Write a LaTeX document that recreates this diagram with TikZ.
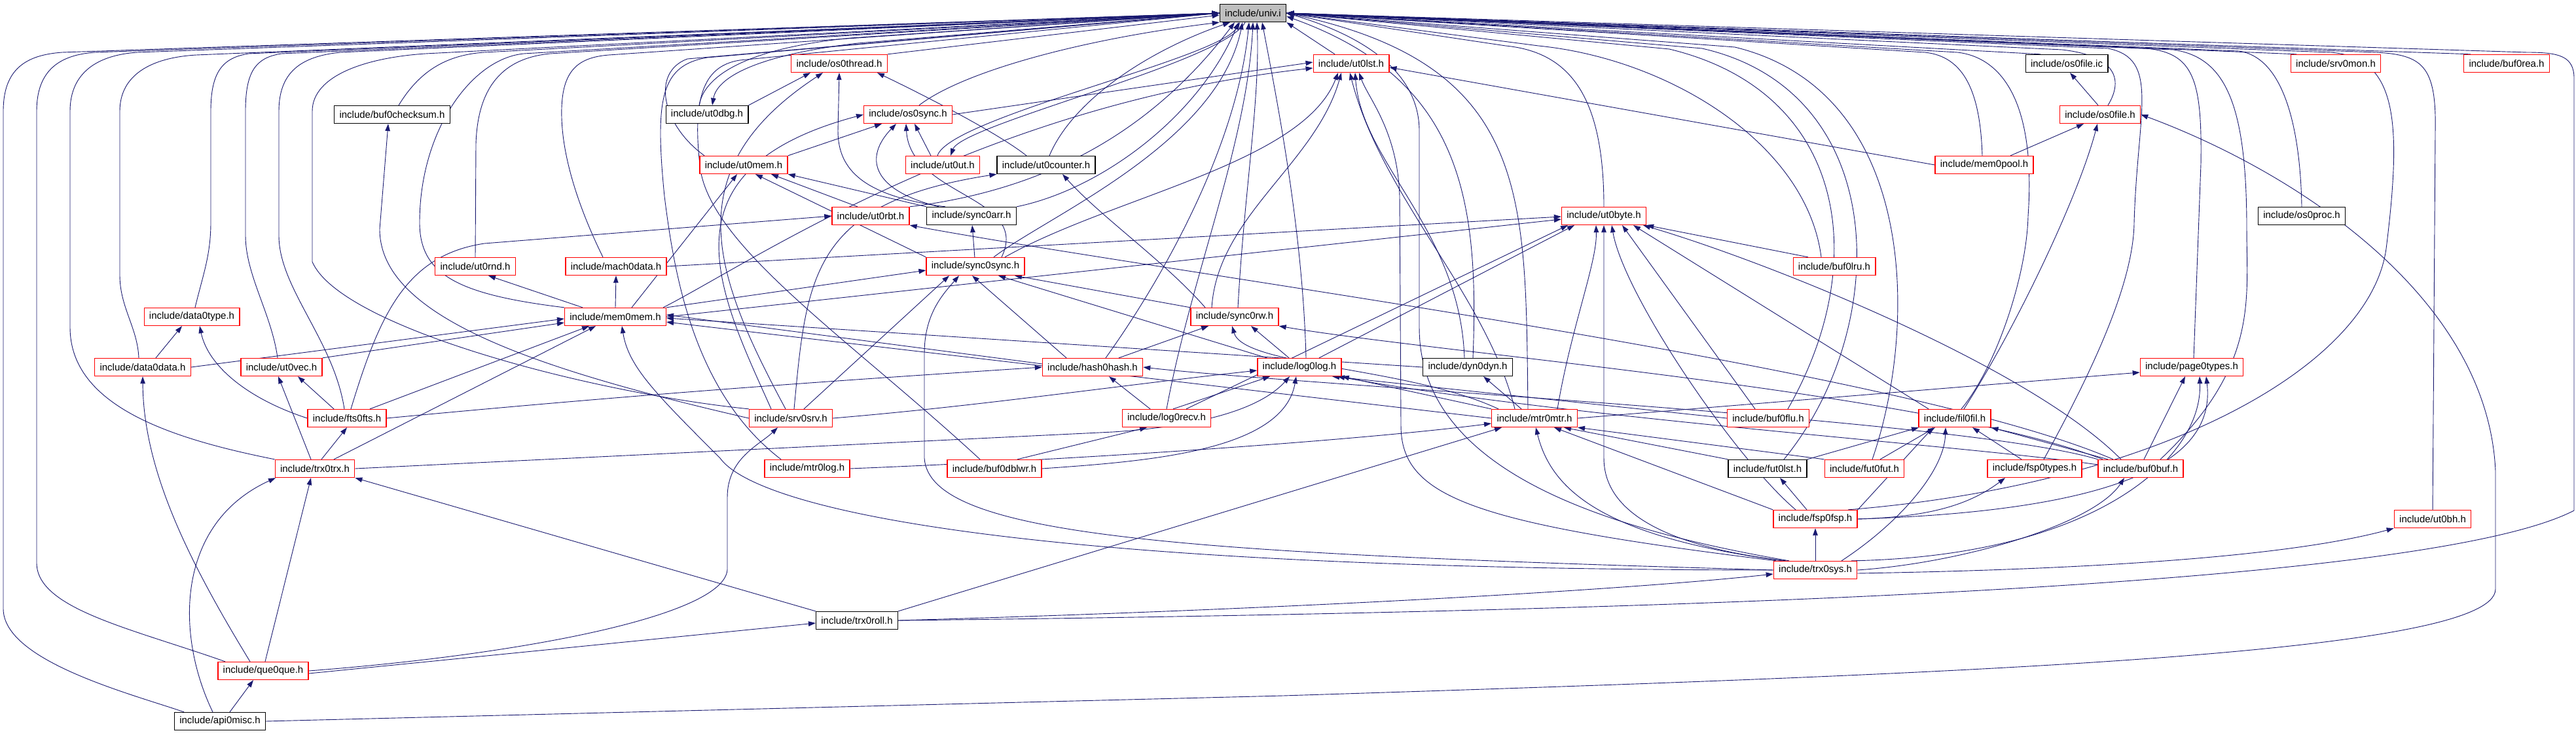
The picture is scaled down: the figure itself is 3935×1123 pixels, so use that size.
\documentclass[tikz,border=0pt]{standalone}
\usepackage{fontspec}
\setmainfont{Liberation Sans}
\usetikzlibrary{arrows.meta}
\definecolor{edgec}{RGB}{25,25,112}
\definecolor{nred}{RGB}{255,0,0}
\pgfdeclarelayer{backlayer}
\pgfdeclarelayer{edgelayer}
\pgfsetlayers{backlayer,edgelayer,main}
\begin{document}
\begin{tikzpicture}[x=1pt,y=-1pt,
  edg/.style={draw=edgec,line width=0.9pt,-{Triangle[length=11pt,width=7.5pt]}},
  rnode/.style={draw=nred,fill=white,line width=1.3pt,minimum height=27pt,inner xsep=7.8pt,inner ysep=0pt,font=\fontsize{15}{18}\selectfont},
  bnode/.style={rnode,draw=black},
  unode/.style={rnode,draw=black,fill=gray!50}]
\begin{pgfonlayer}{backlayer}
\fill[white] (0,0) rectangle (3935,1123);
\end{pgfonlayer}
\useasboundingbox (0,0) rectangle (3935,1123);
% nodes
\node[unode] (univ) at (1914,20) {include/univ.i};
\node[rnode] (os0thread) at (1282,97) {include/os0thread.h};
\node[rnode] (ut0lst) at (2064,97) {include/ut0lst.h};
\node[bnode] (os0fileic) at (3157,97) {include/os0file.ic};
\node[rnode] (srv0mon) at (3568,97) {include/srv0mon.h};
\node[rnode] (buf0rea) at (3829,97) {include/buf0rea.h};
\node[bnode] (buf0checksum) at (599,175) {include/buf0checksum.h};
\node[bnode] (ut0dbg) at (1080,175) {include/ut0dbg.h};
\node[rnode] (os0sync) at (1387,175) {include/os0sync.h};
\node[rnode] (os0file) at (3208,175) {include/os0file.h};
\node[rnode] (ut0mem) at (1136,252) {include/ut0mem.h};
\node[rnode] (ut0ut) at (1440,252) {include/ut0ut.h};
\node[bnode] (ut0counter) at (1598,252) {include/ut0counter.h};
\node[rnode] (mem0pool) at (3031,252) {include/mem0pool.h};
\node[rnode] (ut0rbt) at (1330,330) {include/ut0rbt.h};
\node[bnode] (sync0arr) at (1484,330) {include/sync0arr.h};
\node[rnode] (ut0byte) at (2450,330) {include/ut0byte.h};
\node[bnode] (os0proc) at (3516,330) {include/os0proc.h};
\node[rnode] (ut0rnd) at (726,407) {include/ut0rnd.h};
\node[rnode] (mach0data) at (941,407) {include/mach0data.h};
\node[rnode] (sync0sync) at (1490,407) {include/sync0sync.h};
\node[rnode] (buf0lru) at (2802,407) {include/buf0lru.h};
\node[rnode] (data0type) at (293,484) {include/data0type.h};
\node[rnode] (mem0mem) at (940,484) {include/mem0mem.h};
\node[rnode] (sync0rw) at (1886,484) {include/sync0rw.h};
\node[rnode] (data0data) at (218,561) {include/data0data.h};
\node[rnode] (ut0vec) at (430,561) {include/ut0vec.h};
\node[rnode] (hash0hash) at (1669,561) {include/hash0hash.h};
\node[rnode] (log0log) at (1985,561) {include/log0log.h};
\node[bnode] (dyn0dyn) at (2242,561) {include/dyn0dyn.h};
\node[rnode] (page0types) at (3348,561) {include/page0types.h};
\node[rnode] (fts0fts) at (530,639) {include/fts0fts.h};
\node[rnode] (srv0srv) at (1208,639) {include/srv0srv.h};
\node[rnode] (log0recv) at (1782,639) {include/log0recv.h};
\node[rnode] (mtr0mtr) at (2344,639) {include/mtr0mtr.h};
\node[rnode] (buf0flu) at (2701,639) {include/buf0flu.h};
\node[rnode] (fil0fil) at (2986,639) {include/fil0fil.h};
\node[rnode] (trx0trx) at (481,716) {include/trx0trx.h};
\node[rnode] (mtr0log) at (1233,716) {include/mtr0log.h};
\node[rnode] (buf0dblwr) at (1519,716) {include/buf0dblwr.h};
\node[bnode] (fut0lst) at (2700,716) {include/fut0lst.h};
\node[rnode] (fut0fut) at (2848,716) {include/fut0fut.h};
\node[rnode] (fsp0types) at (3108,716) {include/fsp0types.h};
\node[rnode] (buf0buf) at (3270,716) {include/buf0buf.h};
\node[rnode] (fsp0fsp) at (2773,793) {include/fsp0fsp.h};
\node[rnode] (ut0bh) at (3716,793) {include/ut0bh.h};
\node[rnode] (trx0sys) at (2773,871) {include/trx0sys.h};
\node[bnode] (trx0roll) at (1309,948) {include/trx0roll.h};
\node[rnode] (que0que) at (402,1025) {include/que0que.h};
\node[bnode] (api0misc) at (336,1102) {include/api0misc.h};
\begin{pgfonlayer}{edgelayer}
% ---- edges to univ.i : left lanes
\draw[edg] ([xshift=-55pt]api0misc.north) .. controls (200,1060) and (5,1010) .. (5,930) -- (5,170) .. controls (5,105) and (40,84) .. (95,80) -- (univ.west);
\draw[edg] ([xshift=-58pt]que0que.north) .. controls (200,960) and (56,930) .. (56,860) -- (56,170) .. controls (56,108) and (90,84) .. (145,80) -- (univ.west);
\draw[edg] (trx0trx.north west) .. controls (260,670) and (107,620) .. (107,500) -- (107,170) .. controls (107,110) and (150,84) .. (210,80) -- (univ.west);
\draw[edg] ([xshift=-6pt]data0data.north) .. controls (210,500) and (183,470) .. (183,420) -- (183,170) .. controls (183,115) and (230,88) .. (300,84) -- (univ.west);
\draw[edg] ([xshift=5pt]data0type.north) .. controls (310,420) and (322,390) .. (322,340) -- (322,170) .. controls (322,110) and (340,88) .. (380,82) -- (univ.west);
\draw[edg] ([xshift=-6pt]ut0vec.north) .. controls (415,480) and (375,420) .. (375,360) -- (375,170) .. controls (375,110) and (390,88) .. (430,82) -- (univ.west);
\draw[edg] ([xshift=-4pt]fts0fts.north) .. controls (510,520) and (426,440) .. (426,360) -- (426,170) .. controls (426,110) and (460,86) .. (520,80) -- (univ.west);
\draw[edg] (srv0srv.north west) .. controls (900,600) and (520,500) .. (477,400) -- (477,170) .. controls (477,115) and (560,88) .. (650,82) -- (univ.west);
\draw[edg] ([xshift=10pt]buf0checksum.north) .. controls (640,110) and (680,84) .. (740,80) -- (univ.west);
\draw[edg] (mem0mem.north west) .. controls (700,450) and (641,420) .. (641,340) .. controls (641,200) and (720,90) .. (800,82) -- (univ.west);
\draw[edg] (ut0rnd.north) -- (727,220) .. controls (730,120) and (780,88) .. (840,82) -- (univ.west);
\draw[edg] ([xshift=-20pt]mach0data.north) .. controls (890,330) and (860,250) .. (858,180) .. controls (856,110) and (880,88) .. (930,84) -- (univ.west);
\draw[edg] ([xshift=-60pt]ut0mem.north) .. controls (1010,190) and (995,110) .. (1050,90) -- (univ.west);
\draw[edg] ([xshift=-40pt]mtr0log.north) .. controls (1060,600) and (1030,420) .. (1015,300) .. controls (1000,150) and (1010,100) .. (1080,88) -- (univ.west);
\draw[edg] ([xshift=-22pt]buf0dblwr.north) .. controls (1300,520) and (1090,380) .. (1070,260) .. controls (1055,140) and (1080,100) .. (1130,92) -- (univ.west);
% ---- middle
\draw[edg] (os0thread.north east) -- ([yshift=-3pt]univ.west);
\draw[edg] ([xshift=-12pt]ut0dbg.north) .. controls (1075,120) and (1130,75) .. (1300,58) -- (univ.west);
\draw[edg] (univ.west) -- (1310,66) .. controls (1150,85) and (1095,120) .. ([xshift=8pt]ut0dbg.north);
\draw[edg] ([xshift=17pt]os0sync.north) .. controls (1470,110) and (1650,60) .. (univ.south west);
\draw[edg] ([xshift=-8pt]ut0ut.north) .. controls (1450,180) and (1860,90) .. ([xshift=-20pt]univ.south);
\draw[edg] ([xshift=-12pt]univ.south) .. controls (1870,95) and (1470,190) .. ([xshift=12pt]ut0ut.north);
\draw[edg] ([xshift=5pt]ut0counter.north) .. controls (1640,150) and (1760,75) .. ([xshift=-35pt]univ.south);
\draw[edg] (ut0rbt.north east) .. controls (1600,290) and (1760,200) .. ([xshift=-28pt]univ.south);
\draw[edg] (sync0arr.north east) .. controls (1680,290) and (1830,180) .. ([xshift=-22pt]univ.south);
\draw[edg] ([xshift=28pt]sync0sync.north) .. controls (1600,330) and (1860,220) .. ([xshift=-16pt]univ.south);
\draw[edg] ([xshift=20pt]hash0hash.north) .. controls (1780,420) and (1890,220) .. ([xshift=-6pt]univ.south);
\draw[edg] (log0recv.north) .. controls (1820,420) and (1905,220) .. (univ.south);
\draw[edg] ([xshift=5pt]sync0rw.north) .. controls (1900,300) and (1925,150) .. ([xshift=6pt]univ.south);
\draw[edg] ([xshift=10pt]log0log.north) .. controls (1990,350) and (1950,150) .. ([xshift=14pt]univ.south);
\draw[edg] ([xshift=-25pt]ut0lst.north) -- (univ.south east);
\draw[edg] ([xshift=8pt]dyn0dyn.north) .. controls (2260,300) and (2230,120) .. ([yshift=-5pt]univ.east);
\draw[edg] (ut0byte.north) .. controls (2450,150) and (2400,80) .. (2300,70) -- (univ.east);
\draw[edg] ([xshift=-10pt]mtr0mtr.north) .. controls (2330,300) and (2340,100) .. (univ.east);
\draw[edg] ([xshift=-40pt]trx0sys.north) .. controls (2400,800) and (2168,700) .. (2168,500) -- (2168,200) .. controls (2168,120) and (2100,60) .. (univ.east);
% ---- right
\draw[edg] ([xshift=-20pt]buf0lru.north) .. controls (2760,220) and (2550,90) .. (2350,70) -- (univ.east);
\draw[edg] ([xshift=30pt]buf0flu.north) .. controls (2860,400) and (2820,140) .. (2550,75) -- (univ.east);
\draw[edg] ([xshift=25pt]fut0lst.north) .. controls (2890,500) and (2890,140) .. (2600,74) -- (univ.east);
\draw[edg] ([xshift=12pt]fut0fut.north) .. controls (2930,500) and (2930,140) .. (2650,72) -- (univ.east);
\draw[edg] ([xshift=-3pt]mem0pool.north) .. controls (3025,140) and (3000,86) .. (2940,80) -- (univ.east);
\draw[edg] ([xshift=10pt]fil0fil.north) .. controls (3050,560) and (3096,420) .. (3098,330) .. controls (3110,160) and (3060,88) .. (2990,80) -- (univ.east);
\draw[edg] ([xshift=-40pt]os0fileic.north) -- (univ.east);
\draw[edg] ([xshift=12pt]os0file.north) .. controls (3245,120) and (3230,85) .. (3150,76) -- (univ.east);
\draw[edg] ([xshift=14pt]fsp0types.north) .. controls (3200,560) and (3259,430) .. (3260,340) .. controls (3265,170) and (3300,90) .. (3220,74) -- (univ.east);
\draw[edg] ([xshift=3pt]page0types.north) -- (3362,250) .. controls (3364,120) and (3350,82) .. (3280,74) -- (univ.east);
\draw[edg] ([xshift=30pt]buf0buf.north) .. controls (3450,560) and (3432,460) .. (3432,350) .. controls (3432,160) and (3400,88) .. (3320,76) -- (univ.east);
\draw[edg] (os0proc.north) .. controls (3514,200) and (3490,88) .. (3420,78) -- (univ.east);
\draw[edg] ([xshift=-60pt]srv0mon.north) -- (univ.east);
\draw[edg] ([xshift=-55pt]buf0rea.north) -- (univ.east);
\draw[edg] ([xshift=50pt]fsp0fsp.north) .. controls (3300,740) and (3620,560) .. (3645,380) .. controls (3670,180) and (3660,88) .. (3560,80) -- (univ.east);
\draw[edg] (ut0bh.north) -- (3720,200) .. controls (3722,100) and (3700,84) .. (3630,80) -- (univ.east);
\draw[edg] (trx0roll.east) .. controls (2500,935) and (3700,900) .. (3932,780) -- (3932,120) .. controls (3932,86) and (3910,80) .. (3860,80) -- (univ.east);
% ---- other edges
\draw[edg] (ut0dbg.north east) -- ([xshift=-44pt]os0thread.south);
\draw[edg] ([xshift=-8pt]srv0srv.north) .. controls (1090,420) and (1030,260) .. ([xshift=-25pt]os0thread.south);
\draw[edg] ([xshift=-40pt]sync0arr.north) .. controls (1320,300) and (1280,260) .. (1280,200) -- (os0thread.south);
\draw[edg] ([xshift=-30pt]ut0counter.north) .. controls (1520,200) and (1400,140) .. ([xshift=58pt]os0thread.south);
\draw[edg] (os0sync.east) -- ([yshift=2pt]ut0lst.west);
\draw[edg] ([xshift=-5pt]mem0mem.north east) .. controls (1150,400) and (1500,160) .. ([yshift=-7pt]ut0lst.west);
\draw[edg] (mem0pool.west) -- ([yshift=-6pt]ut0lst.east);
\draw[edg] ([xshift=45pt]sync0sync.north) .. controls (1700,300) and (1990,250) .. ([xshift=-20pt]ut0lst.south);
\draw[edg] ([xshift=-35pt]sync0rw.north) .. controls (1860,330) and (2010,250) .. ([xshift=-15pt]ut0lst.south);
\draw[edg] ([xshift=-5pt]dyn0dyn.north) .. controls (2230,350) and (2080,250) .. ([xshift=6pt]ut0lst.south);
\draw[edg] ([xshift=-60pt]trx0sys.north) .. controls (2250,800) and (2140,760) .. (2140,650) -- (2138,300) .. controls (2135,200) and (2090,150) .. ([xshift=12pt]ut0lst.south);
\draw[edg] ([xshift=-30pt]mtr0mtr.north) .. controls (2270,450) and (2110,300) .. ([xshift=-2pt]ut0lst.south);
\draw[edg] ([xshift=-3pt]os0file.north) -- ([xshift=5pt]os0fileic.south);
\draw[edg] ([xshift=40pt]mem0pool.north) -- ([xshift=-25pt]os0file.south);
\draw[edg] ([xshift=14pt]fil0fil.north) .. controls (3080,500) and (3175,300) .. ([xshift=-4pt]os0file.south);
\draw[edg] (api0misc.east) -- (1960,1063) .. controls (3000,1030) and (3812,1000) .. (3812,900) -- (3812,720) .. controls (3800,450) and (3500,260) .. (os0file.east);
\draw[edg] (srv0srv.west) .. controls (800,560) and (580,480) .. (580,350) -- ([xshift=-6pt]buf0checksum.south);
\draw[edg] (ut0mem.north east) -- ([xshift=-40pt]os0sync.south);
\draw[edg] ([xshift=-18pt]ut0ut.north) -- ([xshift=10pt]os0sync.south);
\draw[edg] ([xshift=-50pt]sync0arr.north) .. controls (1330,290) and (1320,240) .. ([xshift=-18pt]os0sync.south);
\draw[edg] ([xshift=40pt]sync0sync.north) .. controls (1575,300) and (1390,300) .. ([xshift=-3pt]os0sync.south);
\draw[edg] ([xshift=-30pt]srv0srv.north) .. controls (1100,450) and (1000,260) .. (os0sync.west);
\draw[edg] ([xshift=25pt]mem0mem.north) -- ([xshift=-10pt]ut0mem.south);
\draw[edg] (sync0sync.north west) -- ([xshift=18pt]ut0mem.south);
\draw[edg] ([xshift=-20pt]ut0rbt.north) -- ([xshift=42pt]ut0mem.south);
\draw[edg] (sync0arr.north west) -- (ut0mem.south east);
\draw[edg] ([xshift=6pt]fts0fts.north) .. controls (580,480) and (620,390) .. (740,372) -- (ut0rbt.west);
\draw[edg] ([xshift=-42pt]buf0buf.north) .. controls (2900,560) and (1800,420) .. (ut0rbt.south east);
\draw[edg] (sync0sync) -- (sync0arr);
\draw[edg] ([xshift=5pt]srv0srv.north) .. controls (1232,420) and (1240,310) .. (ut0counter.south west);
\draw[edg] ([xshift=-45pt]sync0rw.north) .. controls (1780,400) and (1680,330) .. ([xshift=25pt]ut0counter.south);
\draw[edg] (mem0mem.east) -- ([yshift=-5pt]ut0byte.west);
\draw[edg] (mach0data.east) -- ([yshift=-1pt]ut0byte.west);
\draw[edg] ([xshift=30pt]log0log.north) -- ([xshift=-45pt]ut0byte.south);
\draw[edg] ([xshift=30pt]log0recv.north) -- ([xshift=-55pt]ut0byte.south);
\draw[edg] ([xshift=35pt]mtr0mtr.north) .. controls (2400,500) and (2440,400) .. ([xshift=-12pt]ut0byte.south);
\draw[edg] ([xshift=-45pt]trx0sys.north) .. controls (2500,830) and (2450,760) .. (2450,700) -- (ut0byte.south);
\draw[edg] ([xshift=-30pt]fsp0fsp.north) .. controls (2650,700) and (2480,450) .. ([xshift=12pt]ut0byte.south);
\draw[edg] ([xshift=-20pt]buf0flu.north) -- ([xshift=28pt]ut0byte.south);
\draw[edg] ([xshift=-40pt]fil0fil.north) -- ([xshift=45pt]ut0byte.south);
\draw[edg] ([xshift=-30pt]buf0buf.north) .. controls (3100,560) and (2700,400) .. ([xshift=60pt]ut0byte.south);
\draw[edg] ([xshift=-40pt]buf0lru.north) -- (ut0byte.south east);
\draw[edg] ([xshift=-50pt]mem0mem.north) -- ([xshift=20pt]ut0rnd.south);
\draw[edg] (mem0mem.north) -- (mach0data.south);
\draw[edg] (mem0mem.north east) -- ([yshift=-6pt]sync0sync.west);
\draw[edg] (sync0rw.north west) -- ([xshift=60pt]sync0sync.south);
\draw[edg] ([xshift=-40pt]hash0hash.north) -- ([xshift=-5pt]sync0sync.south);
\draw[edg] ([xshift=-50pt]log0log.north) -- ([xshift=35pt]sync0sync.south);
\draw[edg] (trx0sys.west) .. controls (1800,845) and (1420,820) .. (1412,700) -- (1412,540) .. controls (1412,480) and (1440,450) .. ([xshift=-25pt]sync0sync.south);
\draw[edg] ([xshift=20pt]srv0srv.north) -- ([xshift=-40pt]sync0sync.south);
\draw[edg] ([yshift=5pt]hash0hash.west) -- ([yshift=3pt]mem0mem.east);
\draw[edg] ([xshift=40pt]hash0hash.north) -- ([xshift=-40pt]sync0rw.south);
\draw[edg] ([xshift=-16pt]log0log.north) -- ([xshift=25pt]sync0rw.south);
\draw[edg] ([xshift=-55pt]mtr0mtr.north) .. controls (2150,560) and (1900,560) .. ([xshift=-4pt]sync0rw.south);
\draw[edg] ([xshift=-58pt]buf0buf.north) .. controls (2950,600) and (2200,540) .. (sync0rw.south east);
\draw[edg] ([xshift=20pt]data0data.north) -- ([xshift=-15pt]data0type.south);
\draw[edg] (fts0fts.west) .. controls (380,610) and (318,560) .. ([xshift=12pt]data0type.south);
\draw[edg] (data0data.east) -- ([yshift=-3pt]mem0mem.west);
\draw[edg] (ut0vec.north east) -- ([yshift=-9pt]mem0mem.west);
\draw[edg] ([xshift=35pt]fts0fts.north) -- ([xshift=-40pt]mem0mem.south);
\draw[edg] ([xshift=29pt]trx0trx.north) -- ([xshift=-30pt]mem0mem.south);
\draw[edg] (dyn0dyn.west) -- ([yshift=-2pt]mem0mem.east);
\draw[edg] (mtr0mtr.west) -- ([yshift=-8pt]mem0mem.east);
\draw[edg] (trx0sys.west) .. controls (1500,870) and (1150,770) .. (1100,700) .. controls (1000,600) and (960,560) .. ([xshift=10pt]mem0mem.south);
\draw[edg] ([xshift=-20pt]fts0fts.north) -- ([xshift=25pt]ut0vec.south);
\draw[edg] ([xshift=-6pt]trx0trx.north) -- ([xshift=-5pt]ut0vec.south);
\draw[edg] (fts0fts.east) .. controls (1000,600) and (1300,580) .. (hash0hash.west);
\draw[edg] ([xshift=-25pt]log0recv.north) -- ([xshift=25pt]hash0hash.south);
\draw[edg] (buf0buf.north west) .. controls (3000,640) and (2000,590) .. (hash0hash.east);
\draw[edg] (srv0srv.east) .. controls (1500,620) and (1700,590) .. ([yshift=-5pt]log0log.west);
\draw[edg] ([xshift=10pt]log0recv.north) -- ([xshift=-45pt]log0log.south);
\draw[edg] (mtr0mtr.north west) -- (log0log.south east);
\draw[edg] (buf0flu.west) -- ([xshift=50pt]log0log.south);
\draw[edg] (trx0trx.east) -- (1700,660) .. controls (1850,650) and (1930,620) .. ([xshift=-15pt]log0log.south);
\draw[edg] (buf0dblwr.east) .. controls (1750,705) and (1960,690) .. ([xshift=-5pt]log0log.south);
\draw[edg] ([yshift=6pt]buf0buf.west) .. controls (3000,680) and (2400,640) .. ([xshift=58pt]log0log.south);
\draw[edg] ([xshift=-20pt]mtr0mtr.north) -- ([xshift=24pt]dyn0dyn.south);
\draw[edg] (mtr0mtr.east) -- ([yshift=-8pt]page0types.west);
\draw[edg] ([xshift=5pt]buf0buf.north) -- ([xshift=-10pt]page0types.south);
\draw[edg] ([xshift=55pt]trx0sys.north) .. controls (3200,850) and (3365,700) .. ([xshift=12pt]page0types.south);
\draw[edg] (fsp0fsp.east) .. controls (3250,780) and (3385,700) .. ([xshift=22pt]page0types.south);
\draw[edg] ([xshift=10pt]trx0trx.north) -- (fts0fts.south);
\draw[edg] (que0que.east) .. controls (800,1000) and (1108,940) .. (1111,870) -- (1111,760) .. controls (1111,700) and (1160,680) .. ([xshift=-20pt]srv0srv.south);
\draw[edg] ([xshift=35pt]buf0dblwr.north) -- ([xshift=-30pt]log0recv.south);
\draw[edg] (trx0roll.north east) -- ([xshift=-50pt]mtr0mtr.south);
\draw[edg] (mtr0log.east) .. controls (1700,700) and (2100,670) .. ([yshift=-8pt]mtr0mtr.west);
\draw[edg] (fut0lst.north west) -- ([xshift=45pt]mtr0mtr.south);
\draw[edg] (fut0fut.north west) -- (mtr0mtr.south east);
\draw[edg] ([xshift=-50pt]trx0sys.north) .. controls (2450,820) and (2370,750) .. ([xshift=2pt]mtr0mtr.south);
\draw[edg] (fsp0fsp.north west) -- ([xshift=30pt]mtr0mtr.south);
\draw[edg] (fut0lst.north east) -- ([xshift=-55pt]fil0fil.south);
\draw[edg] ([xshift=24pt]fut0fut.north) -- ([xshift=-30pt]fil0fil.south);
\draw[edg] (fsp0fsp.north east) -- ([xshift=-33pt]fil0fil.south);
\draw[edg] ([xshift=40pt]trx0sys.north) .. controls (2900,800) and (2970,720) .. ([xshift=-14pt]fil0fil.south);
\draw[edg] ([xshift=-20pt]fsp0types.north) -- ([xshift=27pt]fil0fil.south);
\draw[edg] ([xshift=-50pt]buf0buf.north) -- (fil0fil.south east);
\draw[edg] ([xshift=3pt]que0que.north) -- ([xshift=-6pt]trx0trx.south);
\draw[edg] ([xshift=-11pt]api0misc.north) .. controls (268,970) and (268,800) .. ([xshift=-60pt]trx0trx.south);
\draw[edg] (trx0roll.north west) -- (trx0trx.south east);
\draw[edg] ([xshift=-13pt]fsp0fsp.north) -- ([xshift=19pt]fut0lst.south);
\draw[edg] (fsp0fsp.east) .. controls (2950,790) and (3010,770) .. ([xshift=-45pt]fsp0types.south);
\draw[edg] (trx0sys.east) .. controls (3000,860) and (3200,800) .. ([xshift=-25pt]buf0buf.south);
\draw[edg] (trx0sys) -- (fsp0fsp);
\draw[edg] ([yshift=-5pt]trx0sys.east) .. controls (3200,870) and (3500,850) .. (ut0bh.south west);
\draw[edg] (trx0roll.east) .. controls (2000,930) and (2500,900) .. ([yshift=-6pt]trx0sys.west);
\draw[edg] ([yshift=-4pt]que0que.east) -- ([yshift=-4pt]trx0roll.west);
\draw[edg] ([xshift=15pt]api0misc.north) -- ([xshift=-15pt]que0que.south);
\draw[edg] ([xshift=-20pt]que0que.north) .. controls (290,860) and (219,720) .. (data0data.south);
\end{pgfonlayer}
\end{tikzpicture}
\end{document}
